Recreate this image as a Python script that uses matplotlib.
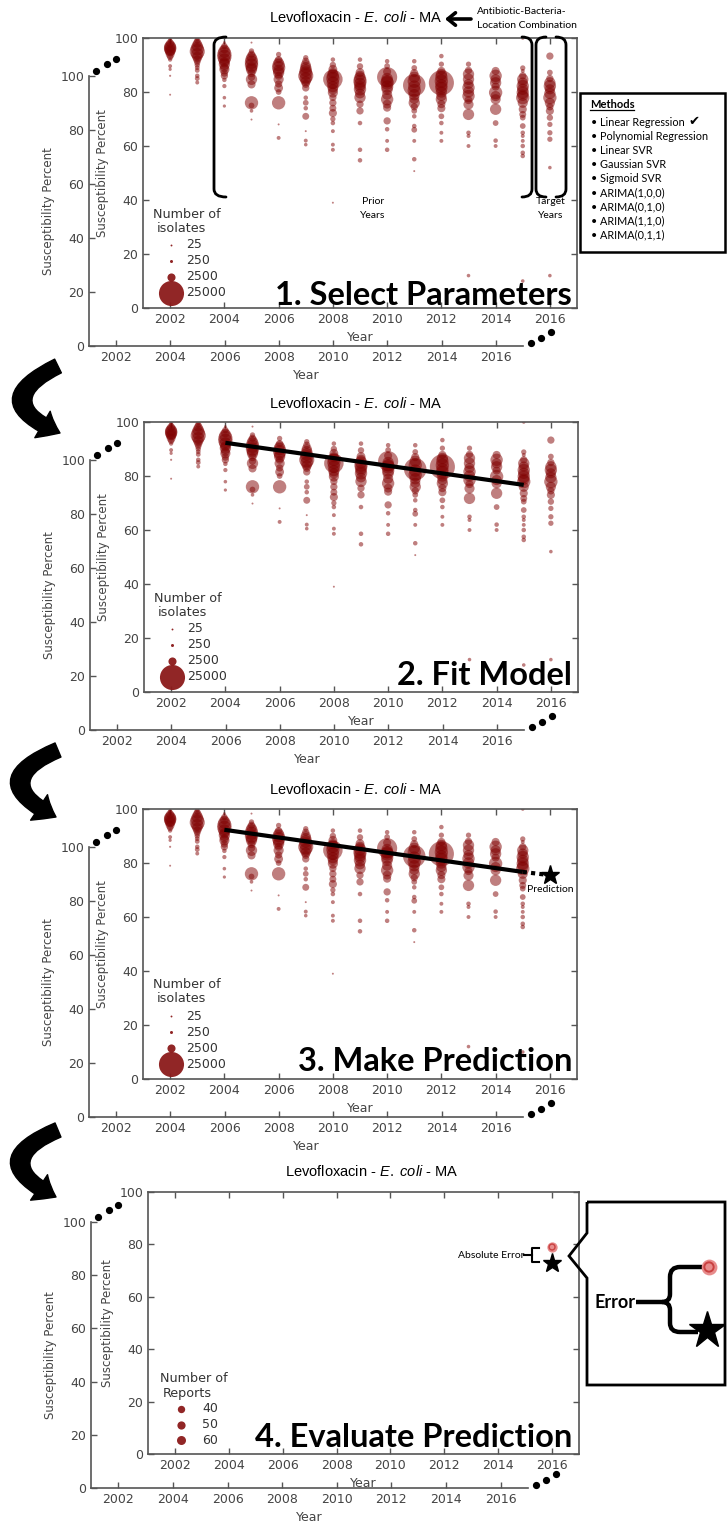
import matplotlib
matplotlib.use('Agg')
import matplotlib.pyplot as plt
from matplotlib.path import Path
from matplotlib.patches import PathPatch, FancyArrowPatch, Rectangle
import numpy as np

W, H = 727, 1533
plt.rcParams['font.family'] = ['DejaVu Sans']
plt.rcParams['mathtext.fontset'] = 'custom'
plt.rcParams['mathtext.it'] = 'Liberation Sans:italic'
plt.rcParams['mathtext.rm'] = 'Liberation Sans'

# ---------------- data ----------------
years = list(range(2002, 2017))
p02 = [99.5, 99, 98, 97, 96.5, 96, 95.5, 95, 94, 93, 92, 89.6, 88.4, 86, 79]
n02 = [300, 800, 2500, 5000, 6000, 6000, 5000, 4000, 3000, 1500, 600, 500, 300, 60, 40]
p03 = [99.5, 99, 98, 97, 96, 95, 94, 93, 92, 91, 90, 89, 88, 86, 85, 83.5]
n03 = [600, 1500, 3000, 5000, 7000, 9000, 6000, 4000, 2500, 1500, 1000, 800, 800, 700, 800, 500]
p04 = [98.3, 97, 96, 95, 94, 93, 92, 91, 90.3, 89, 88.4, 87, 86, 84.5, 82.2, 77.9, 74.8]
n04 = [200, 1500, 3000, 6000, 8000, 8000, 6000, 4000, 5000, 3000, 4000, 2000, 2000, 700, 600, 400, 300]
p05 = [98.3, 95.2, 94, 93, 92, 91, 90, 89, 88.4, 87, 85.5, 84.7, 82.8, 76, 75, 73, 69.8]
n05 = [40, 1000, 2000, 4000, 6000, 7000, 7000, 5000, 5000, 2500, 2000, 5000, 2500, 7000, 1200, 400, 40]
p06 = [93.9, 92, 91, 90, 89, 88, 87.2, 86, 84.7, 83, 81.5, 80, 76, 68, 63]
n06 = [1000, 2000, 4000, 6000, 7000, 5000, 5000, 2500, 4000, 2000, 3000, 1200, 7000, 40, 500]
p07 = [92.7, 91.4, 90, 89, 88, 87, 86, 85, 84, 83, 81.5, 77.9, 76, 74, 71, 65.5, 62, 60.5]
n07 = [1000, 2000, 4000, 5000, 6000, 7000, 9000, 6000, 4000, 2500, 2000, 700, 1200, 700, 1800, 40, 500, 400]
p08 = [92, 90, 88.4, 87, 86, 85, 84.7, 83.5, 82, 81, 79.8, 78, 76, 74, 72.2, 70, 68.5, 65.5, 60.5, 58.6, 39]
n08 = [700, 1500, 3000, 4000, 6000, 7000, 15000, 6000, 5000, 4000, 4000, 2000, 2000, 1800, 2500, 1000, 700, 500, 500, 500, 40]
p09 = [92, 89.5, 87.2, 86, 85, 84, 83, 82, 81, 79.5, 78, 75.5, 73, 68.5, 58.6, 54.7]
n09 = [700, 1500, 3000, 4000, 6000, 7000, 6000, 5000, 6000, 4000, 5000, 2000, 2000, 700, 700, 700]
p10 = [91.4, 89.6, 87.5, 85.5, 85, 84, 83.4, 82, 81, 79, 77.3, 75.5, 74.2, 69.3, 66.2, 61.9, 58.6]
n10 = [700, 1200, 2500, 16000, 5000, 6000, 7000, 6000, 5000, 4000, 6000, 3000, 2500, 2000, 700, 500, 700]
p11 = [91.4, 88.9, 87, 85.5, 84, 82.5, 82, 80.5, 79, 77.5, 76, 74.5, 73, 71, 67.4, 66, 61.9, 55.1, 50.7]
n11 = [700, 1200, 2500, 5000, 7000, 20000, 6000, 7000, 5000, 4000, 5000, 2000, 1200, 700, 700, 1200, 500, 700, 40]
p12 = [93.3, 90.3, 87.8, 86.5, 85.5, 84, 83.4, 82.5, 81.5, 80, 78.5, 77.3, 75.5, 74, 71, 68.5, 64.9, 61.9]
n12 = [700, 1000, 2500, 5000, 6000, 7000, 25000, 6000, 6000, 5000, 4000, 5000, 2500, 2500, 1200, 700, 500, 500]
p13 = [90.3, 88, 86.6, 84.7, 83, 81.6, 80, 78.5, 77, 75.4, 71.7, 64.9, 63.7, 60, 12]
n13 = [1000, 2000, 5000, 5000, 4000, 6000, 5000, 6000, 2500, 4000, 5000, 700, 500, 500, 400]
p14 = [87.8, 86, 84.7, 83.4, 82, 79.8, 78.5, 77.3, 73.6, 68.5, 62, 60]
n14 = [2500, 6000, 4000, 5000, 2500, 7000, 4000, 4000, 5000, 1200, 700, 500]
p15 = [100, 88.9, 87.8, 86, 84.7, 83.5, 82.2, 81, 79.8, 78.8, 77.9, 76, 73.6, 71.7, 70.5, 67.4, 64.9, 63.7, 61.9, 60, 57.5, 56.3, 10]
n15 = [400, 1000, 500, 2000, 5000, 4000, 6000, 5000, 6000, 5000, 7000, 4000, 2500, 1800, 1200, 1200, 700, 500, 500, 700, 700, 700, 400]
p16 = [93.3, 87.2, 85, 83.4, 82.2, 81, 79.5, 77.9, 76, 74.5, 73, 70.5, 68, 64.9, 62.5, 52, 12]
n16 = [2000, 1200, 2000, 5000, 6000, 4000, 5000, 7000, 4000, 2000, 2500, 1500, 1000, 1000, 1000, 400, 400]
pct_by_year = [p02, p03, p04, p05, p06, p07, p08, p09, p10, p11, p12, p13, p14, p15, p16]
iso_by_year = [n02, n03, n04, n05, n06, n07, n08, n09, n10, n11, n12, n13, n14, n15, n16]

legend_isolates = [25, 250, 2500, 25000]
legend_reports = [40, 50, 60]

fit_years = [2004, 2015]
fit_pct = [92.3, 76.7]
pred_year = 2016
pred_pct = 75.5
eval_year = 2016
eval_true_pct = 79.0
eval_pred_pct = 73.0

methods = ['Linear Regression', 'Polynomial Regression', 'Linear SVR', 'Gaussian SVR',
           'Sigmoid SVR', 'ARIMA(1,0,0)', 'ARIMA(0,1,0)', 'ARIMA(1,1,0)', 'ARIMA(0,1,1)']
step_titles = ['1. Select Parameters', '2. Fit Model', '3. Make Prediction', '4. Evaluate Prediction']
title_txt = r'Levofloxacin - $\mathit{E.\ coli}$ - MA'

# ---------------- styling ----------------
RED = '#800000'
GRAY = '#555555'
TXT = '#444444'
CAL = ['Lato', 'DejaVu Sans']


def size_of(n):
    return np.asarray(n, dtype=float) * 0.013 + 1.5


def px_rect(l, t, w, h):
    return [l / W, 1 - (t + h) / H, w / W, h / H]


def style_axes(ax, front=True):
    ax.set_xlim(2001, 2017)
    ax.set_ylim(0, 100)
    ax.set_xticks(range(2002, 2017, 2))
    ax.set_yticks(range(0, 101, 20))
    for sp in ax.spines.values():
        sp.set_color(GRAY)
        sp.set_linewidth(1.2)
    if not front:
        ax.spines['top'].set_visible(False)
        ax.spines['right'].set_visible(False)
        ax.patch.set_alpha(0)
    ax.tick_params(direction='in', length=4, width=1, color=GRAY, labelsize=9,
                   labelcolor=TXT, top=front, right=front)
    ax.set_xlabel('Year', fontsize=9, color=TXT)
    ax.set_ylabel('Susceptibility Percent', fontsize=8.5, color=TXT)


fig = plt.figure(figsize=(W / 100, H / 100), dpi=100)
fig.patch.set_facecolor('white')

panels = [
    dict(front=(143, 38, 434, 270), back=(89, 76, 434, 270), title=(356, 18)),
    dict(front=(144, 422, 434, 270), back=(90, 460, 434, 270), title=(356, 403)),
    dict(front=(143, 809, 434, 270), back=(89, 847, 434, 270), title=(356, 789)),
    dict(front=(148, 1192, 431, 262), back=(91, 1222, 437, 266), title=(372, 1172)),
]
baselines = [305, 685, 1071, 1447]

fronts = []
for i, pn in enumerate(panels):
    axb = fig.add_axes(px_rect(*pn['back']), zorder=1)
    style_axes(axb, front=False)
    axf = fig.add_axes(px_rect(*pn['front']), zorder=2)
    style_axes(axf, front=True)
    axf.set_facecolor('white')
    fronts.append(axf)

# scatter data panels 1-3
for i in range(3):
    ax = fronts[i]
    for yr, p, n in zip(years, pct_by_year, iso_by_year):
        if i == 2 and yr == 2016:
            continue
        ax.scatter([yr] * len(p), p, s=size_of(n), c=RED, alpha=0.5,
                   linewidths=0, zorder=2)

# fitted model
for i in (1, 2):
    fronts[i].plot(fit_years, fit_pct, color='k', lw=3, solid_capstyle='butt', zorder=5)
fronts[2].plot([fit_years[-1], pred_year], [fit_pct[-1], pred_pct], color='k', lw=3,
               ls=(0, (1, 1)), zorder=5)
fronts[2].plot([pred_year], [pred_pct], marker='*', ms=14, color='k', zorder=6)
fronts[2].text(pred_year, pred_pct - 5.5, 'Prediction', ha='center', va='center',
               fontsize=7.5, family=CAL, zorder=6)

# evaluation panel
ax4 = fronts[3]
ax4.scatter([eval_year], [eval_true_pct], s=55, c='#e06666', alpha=0.75, linewidths=0, zorder=3)
ax4.scatter([eval_year], [eval_true_pct], s=18, facecolors='none', edgecolors='#c94040',
            linewidths=1.0, zorder=4)
ax4.plot([eval_year], [eval_pred_pct], marker='*', ms=14, color='k', zorder=5)

# ---------------- overlay ----------------
ov = fig.add_axes([0, 0, 1, 1], zorder=10)
ov.set_xlim(0, W)
ov.set_ylim(H, 0)
ov.axis('off')
ov.patch.set_alpha(0)

for i, pn in enumerate(panels):
    cx, cy = pn['title']
    ov.text(cx, cy, title_txt, ha='center', va='center', fontsize=10.5,
            family='Liberation Sans', color='k')
    L, T, w, h = pn['front']
    bl, bt, bw, bh = pn['back']
    ov.plot([bl + 7, bl + 18, bl + 27], [bt - 5, bt - 12, bt - 17], 'o', color='k', ms=4.2, ls='none')
    bx = bl + bw
    by = bt + bh
    ov.plot([bx + 8, bx + 18, bx + 28], [by - 3, by - 8, by - 14], 'o', color='k', ms=4.2, ls='none')
    ov.text(572, baselines[i], step_titles[i], ha='right', va='baseline', fontsize=23.5,
            fontweight='bold', family=CAL, color='k')

# legends panels 1-3
for i in range(3):
    L, T, w, h = panels[i]['front']
    ov.text(L + 10, T + 176, 'Number of', fontsize=9.2, color='#333333', va='center')
    ov.text(L + 14, T + 190, 'isolates', fontsize=9.2, color='#333333', va='center')
    for k, v in enumerate(legend_isolates):
        yy = T + 207 + 16 * k
        ov.scatter([L + 28], [yy], s=size_of([v]), c='#8b1a1a', alpha=0.95, linewidths=0)
        ov.text(L + 43, yy, str(v), fontsize=9, color='#333333', va='center')

# legend panel 4
L, T, w, h = panels[3]['front']
ov.text(L + 12, T + 187, 'Number of', fontsize=9.2, color='#333333', va='center')
ov.text(L + 15, T + 201, 'Reports', fontsize=9.2, color='#333333', va='center')
for k, v in enumerate(legend_reports):
    yy = T + 217 + 15.5 * k
    ov.scatter([L + 33], [yy], s=v * 0.7, c='#8b1a1a', alpha=0.95, linewidths=0)
    ov.text(L + 54, yy, str(v), fontsize=9, color='#333333', va='center')


def bracket(xv, xs, yt, yb, r=8, lw=2.0):
    verts = [(xs, yt), (xv, yt), (xv, yt + r), (xv, yb - r), (xv, yb), (xs, yb)]
    codes = [Path.MOVETO, Path.CURVE3, Path.CURVE3, Path.LINETO, Path.CURVE3, Path.CURVE3]
    ov.add_patch(PathPatch(Path(verts, codes), fill=False, lw=lw, ec='k', capstyle='round'))


# brackets panel 1
bracket(214, 226, 37, 197)
bracket(532, 522, 37, 197)
bracket(536, 546, 37, 197)
bracket(566, 556, 37, 197)
ov.text(373, 202, 'Prior', ha='center', va='center', fontsize=7.5, family=CAL)
ov.text(373, 215, 'Years', ha='center', va='center', fontsize=7.5, family=CAL)
ov.text(551, 202, 'Target', ha='center', va='center', fontsize=7.5, family=CAL)
ov.text(551, 215, 'Years', ha='center', va='center', fontsize=7.5, family=CAL)

# antibiotic arrow
ov.annotate('', xy=(445, 19), xytext=(471, 19),
            arrowprops=dict(arrowstyle='->,head_length=0.55,head_width=0.45', lw=2.6, color='k',
                            shrinkA=0, shrinkB=0))
ov.text(477, 11, 'Antibiotic-Bacteria-', fontsize=7.5, family=CAL, va='center')
ov.text(477, 25, 'Location Combination', fontsize=7.5, family=CAL, va='center')

# methods box
ov.add_patch(Rectangle((580, 93), 145, 159, fill=False, lw=1.8, ec='k'))
ov.text(590, 104, 'Methods', fontsize=8, fontweight='bold', family=CAL, va='center')
ov.plot([590, 634], [110, 110], color='k', lw=0.9)
for k, m in enumerate(methods):
    ov.text(591, 122 + 14.1 * k, '\u2022 ' + m, fontsize=7.8, family=CAL, va='center')
ov.text(688, 121, '\u2714', fontsize=9.5, va='center', family='DejaVu Sans')

# curved arrows between panels
for (x0, y0, x1, y1) in [(58, 366, 60, 433), (58, 750, 56, 817), (58, 1130, 56, 1197)]:
    ov.add_patch(FancyArrowPatch((x0, y0), (x1, y1), connectionstyle='arc3,rad=1.1',
                                 arrowstyle='simple,tail_width=1.1,head_width=2.2,head_length=1.4',
                                 mutation_scale=10, color='k', shrinkA=0, shrinkB=0))

# absolute error annotation panel 4
ov.text(524, 1255, 'Absolute Error', ha='right', va='center', fontsize=7.5, family=CAL)
ov.plot([524, 532], [1255, 1255], color='k', lw=1.5)
ov.plot([539, 532, 532, 539], [1248, 1248, 1262, 1262], color='k', lw=1.5)

# error inset
inset = [(587, 1202), (725, 1202), (725, 1385), (587, 1385), (587, 1278), (569, 1256), (587, 1233), (587, 1202)]
ov.add_patch(PathPatch(Path(inset, closed=False), fill=False, lw=2, ec='k', joinstyle='miter'))
ov.text(594, 1302, 'Error', ha='left', va='center', fontsize=13, fontweight='bold', family=CAL)
up = [(636, 1302), (662, 1302), (670, 1302), (670, 1294), (670, 1277), (670, 1267), (680, 1267), (702, 1267)]
upc = [Path.MOVETO, Path.LINETO, Path.CURVE3, Path.CURVE3, Path.LINETO, Path.CURVE3, Path.CURVE3, Path.LINETO]
ov.add_patch(PathPatch(Path(up, upc), fill=False, lw=3.2, ec='k'))
lo = [(662, 1302), (670, 1302), (670, 1310), (670, 1323), (670, 1332), (680, 1332), (698, 1332)]
loc = [Path.MOVETO, Path.CURVE3, Path.CURVE3, Path.LINETO, Path.CURVE3, Path.CURVE3, Path.LINETO]
ov.add_patch(PathPatch(Path(lo, loc), fill=False, lw=3.2, ec='k'))
ov.scatter([709], [1267], s=130, c='#e06666', alpha=0.75, linewidths=0)
ov.scatter([709], [1267], s=45, facecolors='none', edgecolors='#c94040', linewidths=1.4)
ov.plot([707], [1330], marker='*', ms=28, color='k')

fig.savefig('out.png', dpi=100)
